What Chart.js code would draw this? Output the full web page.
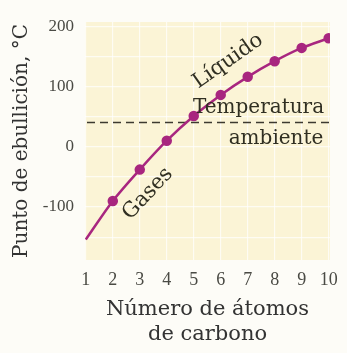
<!DOCTYPE html>
<html lang="es">
<head>
    <meta charset="UTF-8">
    <title>Punto de ebullición</title>
    <script src="https://cdn.jsdelivr.net/npm/chart.js"></script>
    <style>
      html, body { margin: 0; padding: 0; background: #fdfcf7; }
      #wrap { width: 347px; height: 353px; }
    </style>
</head>
<body>
    <div id="wrap"><canvas id="grafico"></canvas></div>

    <script>
      // datos
      const carbonos = [1, 2, 3, 4, 5, 6, 7, 8, 9, 10];
      const ebullicion = [-154, -90, -38, 10, 51, 86, 116, 142, 164, 180];
      const marcador = [0, 4, 4, 4, 4, 4, 4, 4, 4, 4];
      const yTicks = [-100, 0, 100, 200];
      const tempAmbiente = 40;

      const serif = '"DejaVu Serif", "Liberation Serif", serif';
      const serifNum = '"Liberation Serif", "DejaVu Serif", serif';
      const colorTexto = '#302f22';

      // fondo crema, linea de temperatura ambiente y rotulos
      const extras = {
        id: 'extras',
        beforeDraw(chart) {
          const { ctx, chartArea: a } = chart;
          ctx.save();
          ctx.fillStyle = '#fbf4d6';
          ctx.fillRect(a.left, a.top, a.right - a.left, a.bottom - a.top);
          ctx.restore();
        },
        beforeDatasetsDraw(chart) {
          const { ctx, chartArea: a, scales } = chart;
          const y = scales.y.getPixelForValue(tempAmbiente);
          ctx.save();
          ctx.strokeStyle = '#3d3a30';
          ctx.lineWidth = 1.5;
          ctx.setLineDash([8, 5]);
          ctx.beginPath();
          ctx.moveTo(a.left + 2, y);
          ctx.lineTo(a.right, y);
          ctx.stroke();
          ctx.restore();
        },
        afterDatasetsDraw(chart) {
          const { ctx, scales } = chart;
          const rotulo = (txt, xv, yv, ang, size) => {
            ctx.save();
            ctx.translate(scales.x.getPixelForValue(xv), scales.y.getPixelForValue(yv));
            ctx.rotate(ang * Math.PI / 180);
            ctx.fillStyle = colorTexto;
            ctx.font = size + 'px ' + serif;
            ctx.textAlign = 'center';
            ctx.textBaseline = 'middle';
            ctx.fillText(txt, 0, 0);
            ctx.restore();
          };
          rotulo('Líquido', 6.27, 142, -35, 21);
          rotulo('Gases', 3.3, -78, -47, 21);
          rotulo('Temperatura', 7.4, 65, 0, 20);
          rotulo('ambiente', 8.05, 13, 0, 20);
        }
      };

      const ctx = document.getElementById('grafico').getContext('2d');
      const myChart = new Chart(ctx, {
          type: 'line',
          data: {
              datasets: [{
                  data: carbonos.map((c, i) => ({ x: c, y: ebullicion[i] })),
                  borderColor: '#a8267f',
                  backgroundColor: '#a8267f',
                  borderWidth: 2.5,
                  pointRadius: marcador,
                  pointHoverRadius: marcador,
                  tension: 0.3
              }]
          },
          options: {
              responsive: true,
              maintainAspectRatio: false,
              animation: false,
              events: [],
              layout: { padding: { left: 10, right: 17, top: 22, bottom: 6 } },
              plugins: { legend: { display: false }, tooltip: { enabled: false } },
              scales: {
                  x: {
                      type: 'linear',
                      min: 0.97,
                      max: 10.05,
                      afterBuildTicks: s => { s.ticks = carbonos.map(v => ({ value: v })); },
                      ticks: {
                          color: '#4a4a44',
                          font: { family: serifNum, size: 18 },
                          padding: 9,
                          maxRotation: 0,
                          autoSkip: false
                      },
                      grid: { color: 'rgba(255,255,255,0.7)', lineWidth: 1.2, drawTicks: false },
                      border: { display: false },
                      title: {
                          display: true,
                          text: ['Número de átomos', 'de carbono'],
                          color: '#333',
                          font: { family: serif, size: 21 },
                          padding: { top: 2, bottom: 0 }
                      },
                      afterFit: s => { s.height = 353 - 260 - 6; }
                  },
                  y: {
                      min: -188,
                      max: 207,
                      afterBuildTicks: s => {
                          const t = [];
                          for (let v = -150; v <= 200; v += 50) t.push({ value: v });
                          s.ticks = t;
                      },
                      ticks: {
                          color: '#4a4a44',
                          font: { family: serifNum, size: 17 },
                          padding: 11,
                          callback: v => yTicks.includes(v) ? String(v) : ''
                      },
                      grid: { color: 'rgba(255,255,255,0.7)', lineWidth: 1.2, drawTicks: false },
                      border: { display: false },
                      title: {
                          display: true,
                          text: 'Punto de ebullición, °C',
                          color: '#333',
                          font: { family: serif, size: 20 },
                          padding: { top: 0, bottom: 2 }
                      },
                      afterFit: s => { s.width = 85 - 10; }
                  }
              }
          },
          plugins: [extras]
      });
    </script>
</body>
</html>
